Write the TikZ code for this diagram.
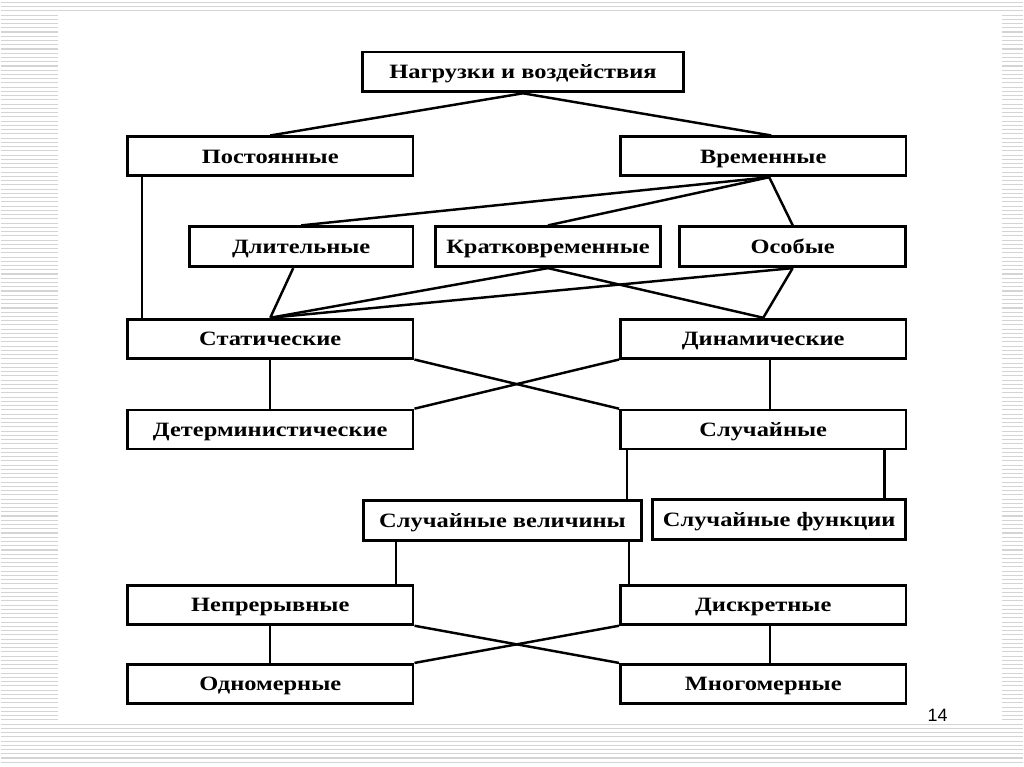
\documentclass[tikz,border=0pt]{standalone}
\usepackage{fontspec}
\setmainfont{Liberation Serif}[FakeStretch=1.2]
\newfontfamily\numfont{Liberation Sans}
\usetikzlibrary{calc}
\tikzstyle{block}=[draw,line width=1.6pt,inner sep=0pt,minimum width=5.72cm,minimum height=0.78cm,text height=7.7pt,text depth=0pt,font=\bfseries\fontsize{11.6}{14}\selectfont]
\tikzstyle{link}=[line width=1.4pt]
\tikzstyle{stripe}=[black!17,line width=0.6pt]

\begin{document}
\begin{tikzpicture}[x=0.02cm,y=-0.02cm]
      % slide background
      \fill [white] (0,0) rectangle (1024,767);
      \foreach \y in {2.3,6.55,...,767} \draw [stripe] (0,\y) -- (1024,\y);
      \fill [white] (58,12) rectangle (1002,725);
      % boxes
      \node [block,minimum width=6.44cm,minimum height=0.8cm] (load) at (523,72) {Нагрузки и воздействия};
      \node [block] (post) at (270,156.5) {Постоянные};
      \node [block] (vrem) at (763.5,156.5) {Временные};
      \node [block,minimum width=4.48cm,minimum height=0.8cm] (dlit) at (301,247) {Длительные};
      \node [block,minimum width=4.5cm,minimum height=0.8cm] (krat) at (548,247) {Кратковременные};
      \node [block,minimum width=4.52cm,minimum height=0.8cm] (osob) at (793,247) {Особые};
      \node [block] (stat) at (270,339) {Статические};
      \node [block] (dinam) at (763.5,339) {Динамические};
      \node [block] (determ) at (270,430) {Детерминистические};
      \node [block] (sluch) at (763.5,430) {Случайные};
      \node [block,minimum width=5.58cm,minimum height=0.8cm] (velich) at (502.5,521) {Случайные величины};
      \node [block,minimum width=5.06cm,minimum height=0.8cm] (funk) at (779.5,520) {Случайные функции};
      \node [block] (nepr) at (270,605.5) {Непрерывные};
      \node [block] (diskr) at (763.5,605.5) {Дискретные};
      \node [block] (odnom) at (270,684.5) {Одномерные};
      \node [block] (mnogo) at (763.5,684.5) {Многомерные};
      \node [font=\numfont\fontsize{10.2}{12}\selectfont] (pagenum) at (938,716) {14};
      % links
      \coordinate (vremS) at ($(vrem.south)+(6,0)$);
      \draw [link] (load.south) -- (post.north);
      \draw [link] (load.south) -- ($(vrem.north)+(8,0)$);
      \draw [link] ($(post.south west)+(16,0)$) -- ($(stat.north west)+(16,0)$);
      \draw [link] (vremS) -- (dlit.north);
      \draw [link] (vremS) -- (krat.north);
      \draw [link] (vremS) -- (osob.north);
      \draw [link] ($(dlit.south)+(-8,0)$) -- (stat.north);
      \draw [link] (krat.south) -- (stat.north);
      \draw [link] (osob.south) -- (stat.north);
      \draw [link] (krat.south) -- (dinam.north);
      \draw [link] (osob.south) -- (dinam.north);
      \draw [link] (stat.south) -- (determ.north);
      \draw [link] (stat.south east) -- (sluch.north west);
      \draw [link] (dinam.south west) -- (determ.north east);
      \draw [link] ($(dinam.south)+(7,0)$) -- ($(sluch.north)+(7,0)$);
      \draw [link] ($(sluch.south west)+(8,0)$) -- ($(sluch.south west)+(8,51)$);
      \draw [link] ($(sluch.south east)+(-23,0)$) -- ($(sluch.south east)+(-23,51)$);
      \draw [link] ($(velich.south west)+(34,0)$) -- ($(velich.south west)+(34,45)$);
      \draw [link] ($(velich.south east)+(-14,0)$) -- ($(velich.south east)+(-14,45)$);
      \draw [link] (nepr.south) -- (odnom.north);
      \draw [link] (nepr.south east) -- (mnogo.north west);
      \draw [link] (diskr.south west) -- (odnom.north east);
      \draw [link] ($(diskr.south)+(7,0)$) -- ($(mnogo.north)+(7,0)$);
    \end{tikzpicture}
\end{document}
